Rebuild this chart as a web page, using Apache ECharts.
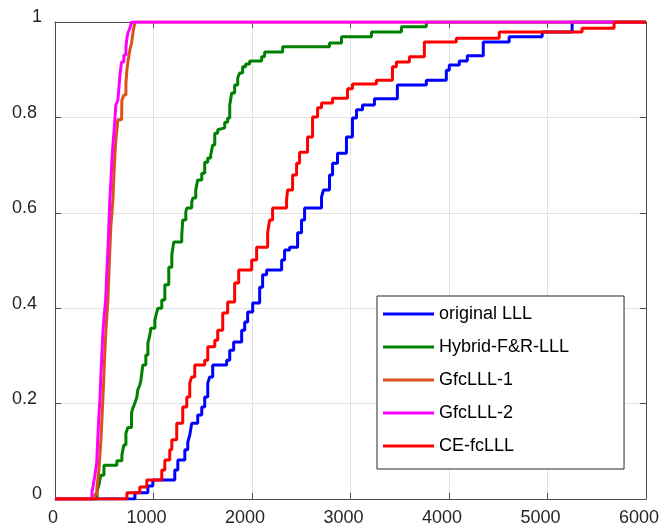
<!DOCTYPE html>
<html>
<head>
<meta charset="utf-8">
<script src="https://cdn.jsdelivr.net/npm/echarts@6/dist/echarts.min.js"></script>
<style>
  html, body { margin: 0; padding: 0; background: #fff; }
  #chart { width: 662px; height: 530px; }
</style>
</head>
<body>
<div id="chart"></div>
<script>
// Empirical CDF curves: each pair is [x, F(x)], F jumps to the new value at x.
const originalLLL = [[0,0],[811,0.013],[943,0.027],[993,0.040],[1216,0.061],[1247,0.082],[1318,0.103],[1348,0.119],[1368,0.134],[1388,0.159],[1449,0.176],[1490,0.193],[1520,0.214],[1551,0.243],[1571,0.256],[1601,0.281],[1743,0.291],[1774,0.312],[1814,0.329],[1895,0.354],[1926,0.371],[1956,0.392],[2007,0.411],[2078,0.444],[2108,0.470],[2149,0.480],[2301,0.501],[2331,0.522],[2382,0.528],[2463,0.558],[2503,0.585],[2534,0.610],[2706,0.633],[2726,0.648],[2787,0.679],[2818,0.704],[2868,0.725],[2959,0.759],[3020,0.799],[3061,0.816],[3122,0.826],[3243,0.839],[3476,0.868],[3770,0.878],[3973,0.899],[4003,0.910],[4105,0.918],[4186,0.929],[4348,0.958],[4611,0.969],[4946,0.979],[5250,1],[6000,1]];

const hybridFRLLL = [[0,0],[426,0.015],[446,0.030],[466,0.050],[497,0.071],[628,0.080],[679,0.092],[699,0.113],[720,0.138],[740,0.150],[777,0.180],[791,0.191],[811,0.201],[831,0.214],[841,0.229],[861,0.239],[872,0.249],[892,0.281],[922,0.302],[943,0.327],[963,0.344],[973,0.358],[1014,0.375],[1034,0.392],[1044,0.400],[1084,0.417],[1115,0.449],[1155,0.486],[1186,0.512],[1206,0.539],[1287,0.553],[1297,0.585],[1328,0.602],[1338,0.610],[1388,0.621],[1399,0.631],[1429,0.648],[1449,0.669],[1490,0.683],[1520,0.706],[1551,0.715],[1581,0.721],[1601,0.742],[1622,0.767],[1652,0.774],[1672,0.778],[1723,0.790],[1753,0.799],[1774,0.826],[1794,0.851],[1824,0.868],[1855,0.883],[1875,0.893],[1905,0.906],[1936,0.912],[1976,0.918],[2098,0.927],[2128,0.937],[2311,0.948],[2787,0.956],[2909,0.969],[3213,0.979],[3517,0.990],[3770,1],[6000,1]];

const gfcLLL1 = [[0,0],[405,0.010],[426,0.025],[446,0.061],[466,0.124],[476,0.166],[486,0.208],[497,0.260],[507,0.312],[517,0.354],[537,0.417],[547,0.470],[557,0.522],[568,0.574],[588,0.627],[598,0.679],[608,0.721],[618,0.753],[628,0.774],[638,0.795],[676,0.799],[679,0.836],[699,0.847],[720,0.872],[730,0.899],[740,0.916],[760,0.941],[777,0.956],[791,0.977],[811,1],[6000,1]];

const gfcLLL2 = [[0,0],[375,0.015],[385,0.025],[405,0.050],[423,0.075],[436,0.134],[446,0.176],[456,0.208],[466,0.260],[476,0.302],[486,0.348],[497,0.379],[514,0.417],[527,0.480],[537,0.522],[547,0.574],[557,0.627],[568,0.669],[578,0.711],[588,0.742],[598,0.767],[618,0.826],[638,0.836],[649,0.862],[659,0.889],[676,0.916],[699,0.931],[720,0.948],[730,0.966],[740,0.977],[760,0.987],[777,1],[6000,1]];

const ceFcLLL = [[0,0],[730,0.013],[861,0.025],[932,0.040],[1084,0.061],[1115,0.082],[1165,0.103],[1186,0.124],[1236,0.159],[1297,0.193],[1338,0.214],[1368,0.243],[1388,0.256],[1419,0.281],[1520,0.291],[1551,0.319],[1622,0.333],[1652,0.354],[1703,0.390],[1753,0.413],[1824,0.453],[1865,0.480],[1997,0.501],[2047,0.528],[2159,0.558],[2179,0.585],[2209,0.610],[2351,0.627],[2362,0.648],[2412,0.679],[2453,0.704],[2483,0.727],[2564,0.759],[2615,0.801],[2666,0.820],[2706,0.830],[2818,0.840],[2970,0.860],[3020,0.870],[3263,0.878],[3426,0.906],[3466,0.916],[3598,0.927],[3750,0.958],[4074,0.966],[4510,0.979],[5351,0.987],[5676,1],[6000,1]];

const seriesNames = ['original LLL', 'Hybrid-F&R-LLL', 'GfcLLL-1', 'GfcLLL-2', 'CE-fcLLL'];
const seriesColors = ['#0000FF', '#008000', '#D95319', '#FF00FF', '#FF0000'];
const seriesData = [originalLLL, hybridFRLLL, gfcLLL1, gfcLLL2, ceFcLLL];

const xTicks = [0, 1000, 2000, 3000, 4000, 5000, 6000];
const yTicks = [0, 0.2, 0.4, 0.6, 0.8, 1];

const FONT = 'Liberation Sans, Arial, Helvetica, sans-serif';
const AXIS_COLOR = '#4d4d4d';
const GRID_COLOR = '#e3e3e3';
const LABEL_STYLE = { color: '#262626', fontFamily: FONT, fontSize: 18 };

const chart = echarts.init(document.getElementById('chart'), null, { renderer: 'canvas' });

function boxAxis(extra) {
  return Object.assign({
    type: 'value',
    axisLine: { show: true, onZero: false, lineStyle: { color: AXIS_COLOR, width: 1 } },
    axisTick: { show: true, inside: true, length: 6, lineStyle: { color: AXIS_COLOR, width: 1 } },
    splitLine: { show: false },
    axisLabel: { show: false }
  }, extra);
}

const option = {
  animation: false,
  backgroundColor: '#ffffff',
  grid: { left: 55, top: 22, width: 592, height: 477, containLabel: false },
  xAxis: [
    boxAxis({
      position: 'bottom',
      min: xTicks[0], max: xTicks[xTicks.length - 1], interval: xTicks[1] - xTicks[0],
      splitLine: { show: true, lineStyle: { color: GRID_COLOR, width: 1 } },
      axisLabel: Object.assign({
        show: true, margin: 10,
        // short and long labels sit slightly left of their tick
        formatter: v => (v === 0 ? '{s|' : '{l|') + String(v) + '}',
        rich: {
          s: Object.assign({ padding: [0, 4, 0, 0] }, LABEL_STYLE),
          l: Object.assign({ padding: [0, 14, 0, 0] }, LABEL_STYLE)
        }
      }, LABEL_STYLE)
    }),
    boxAxis({
      position: 'top',
      min: xTicks[0], max: xTicks[xTicks.length - 1], interval: xTicks[1] - xTicks[0]
    })
  ],
  yAxis: [
    boxAxis({
      position: 'left',
      min: yTicks[0], max: yTicks[yTicks.length - 1], interval: yTicks[1] - yTicks[0],
      splitLine: { show: true, lineStyle: { color: GRID_COLOR, width: 1 } },
      axisLabel: Object.assign({
        show: true, margin: 13,
        padding: [0, 0, 9, 0],
        formatter: v => {
          const t = String(Math.round(v * 10) / 10);
          return (t.length > 1 ? '{d|' : '{i|') + t + '}';
        },
        rich: {
          i: Object.assign({ padding: [0, 0, 0, 0] }, LABEL_STYLE),
          d: Object.assign({ padding: [0, 5, 0, 0] }, LABEL_STYLE)
        }
      }, LABEL_STYLE)
    }),
    boxAxis({
      position: 'right',
      min: yTicks[0], max: yTicks[yTicks.length - 1], interval: yTicks[1] - yTicks[0]
    })
  ],
  legend: {
    orient: 'vertical',
    left: 377,
    top: 296,
    icon: 'rect',
    itemWidth: 51,
    itemHeight: 3,
    itemGap: 13,
    padding: [8, 55, 13, 6],
    borderColor: '#262626',
    borderWidth: 1,
    backgroundColor: '#ffffff',
    selectedMode: false,
    textStyle: { fontFamily: FONT, fontSize: 18, color: '#000000', lineHeight: 20 },
    data: seriesNames
  },
  series: seriesNames.map((name, i) => ({
    name: name,
    type: 'line',
    step: 'end',
    data: seriesData[i],
    showSymbol: false,
    symbol: 'none',
    clip: true,
    color: seriesColors[i],
    itemStyle: { color: seriesColors[i] },
    lineStyle: { color: seriesColors[i], width: 3 },
    z: 2 + i
  }))
};

chart.setOption(option);
</script>
</body>
</html>
